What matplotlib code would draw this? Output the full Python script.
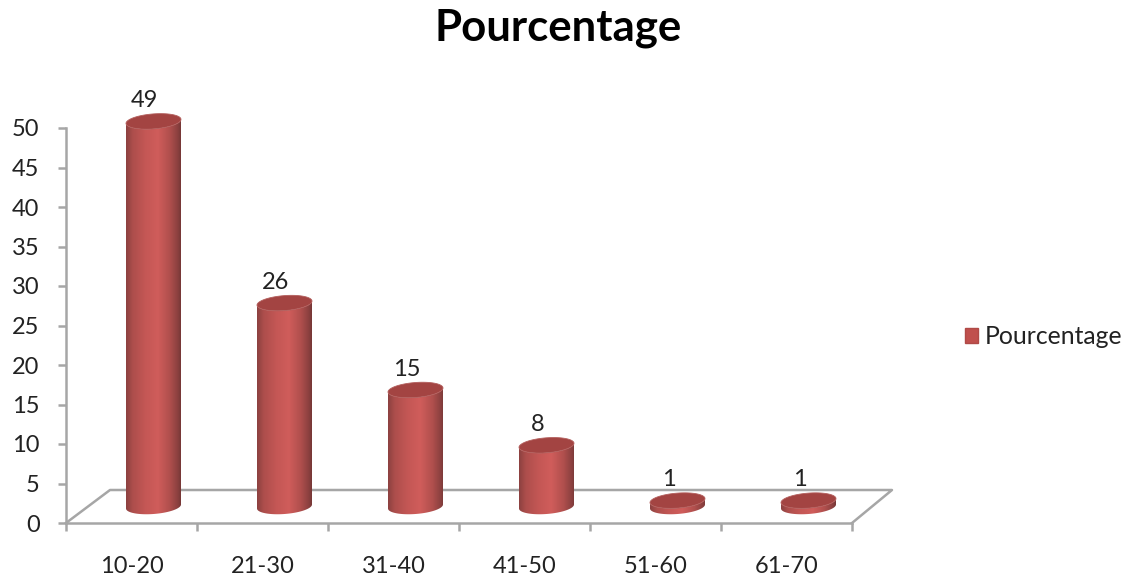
import numpy as np
import matplotlib
matplotlib.use('Agg')
import matplotlib.pyplot as plt
from matplotlib.colors import LinearSegmentedColormap
from matplotlib.patches import Patch, PathPatch
from matplotlib.path import Path

categories = ['10-20', '21-30', '31-40', '41-50', '51-60', '61-70']
values = [49, 26, 15, 8, 1, 1]
yticks = [0, 5, 10, 15, 20, 25, 30, 35, 40, 45, 50]
series_name = 'Pourcentage'

plt.rcParams['font.family'] = ['Lato', 'DejaVu Sans']
W, H = 1130, 582
AXIS = '#a6a6a6'
TEXT = '#222222'
TOPC = '#a34442'

# front plane of the fake 3d box, in pixels of the picture
L, R, B, T = 66, 852, 523, 128
fig = plt.figure(figsize=(W / 100, H / 100), dpi=100)
ax = fig.add_axes([L / W, 1 - B / H, (R - L) / W, (B - T) / H])
ax.set_xlim(0, len(categories))
ax.set_ylim(0, 50)

px = len(categories) / (R - L)   # data units per pixel, x
py = 50 / (B - T)                # data units per pixel, y
depth_left, depth_right, depth_y = 44 * px, 40 * px, 33 * py
bar_a, bar_b, bar_tilt = 27.5 * px, 7.5 * py, 2 * py
bar_dx, base_y, top_y = 22 * px, 16.5 * py, 14.5 * py

cyl = LinearSegmentedColormap.from_list('cyl', [
    (0.0, '#8c4140'), (0.12, '#ad4e4c'), (0.35, '#c45755'), (0.58, '#d05d5b'),
    (0.8, '#b04f4d'), (0.95, '#8a403f'), (1.0, '#763736')])

for s in ['top', 'right']:
    ax.spines[s].set_visible(False)
for s in ['left', 'bottom']:
    ax.spines[s].set_color(AXIS)
    ax.spines[s].set_linewidth(1.8)
    ax.spines[s].set_zorder(1)

ax.set_yticks(yticks)
ax.set_xticks(range(len(categories) + 1))
ax.set_xticklabels([])
ax.set_xticks(np.arange(len(categories)) + 0.5, minor=True)
ax.set_xticklabels(categories, minor=True)
ax.tick_params(axis='y', length=6, width=1.8, color=AXIS, pad=13, labelsize=17, labelcolor=TEXT)
ax.tick_params(axis='x', which='major', length=6, width=1.8, color=AXIS)
ax.tick_params(axis='x', which='minor', length=0, pad=24, labelsize=17, labelcolor=TEXT)

# floor of the box
ax.plot([0, depth_left, len(categories) + depth_right, len(categories)],
        [0, depth_y, depth_y, 0], color=AXIS, lw=1.8, clip_on=False, zorder=1)


def ellipse(cx, cy, t):
    return np.column_stack([cx + bar_a * np.cos(t),
                            cy + bar_b * np.sin(t) + bar_tilt * np.cos(t)])


t_low = np.linspace(np.pi, 2 * np.pi, 40)
t_all = np.linspace(0, 2 * np.pi, 80)

for i, v in enumerate(values):
    cx = i + 0.5 + bar_dx
    base = base_y
    top = top_y + v

    body = np.vstack([ellipse(cx, base, t_low), ellipse(cx, top, t_low[::-1])])
    im = ax.imshow(np.linspace(0, 1, 128).reshape(1, -1), cmap=cyl, aspect='auto',
                   extent=[cx - bar_a, cx + bar_a, base - 2 * bar_b, top + 2 * bar_b],
                   zorder=3)
    clip = PathPatch(Path(body), transform=ax.transData, facecolor='none', edgecolor='none',
                     clip_on=False)
    ax.add_patch(clip)
    im.set_clip_box(fig.bbox)   # otherwise the image stops at the top of the axes
    im.set_clip_path(clip)

    cap = PathPatch(Path(ellipse(cx, top, t_all)), facecolor=TOPC, edgecolor='#b35f5d',
                    lw=0.6, zorder=4, clip_on=False)
    ax.add_patch(cap)

    ax.annotate(str(v), (cx, top), xytext=(-6.5, 15), textcoords='offset points',
                ha='center', va='center', fontsize=17, color=TEXT, zorder=5,
                annotation_clip=False)

ax.set_xlim(0, len(categories))
ax.set_ylim(0, 50)

fig.text(558 / W, 1 - 28 / H, series_name, ha='center', va='center',
         fontsize=31.5, fontweight='bold', color='black')

handle = Patch(facecolor='#c0504d', edgecolor='#b04a47', label=series_name)
fig.legend(handles=[handle], loc='center left', bbox_to_anchor=(965 / W, 1 - 337 / H),
           frameon=False, fontsize=17.8, labelcolor=TEXT, handlelength=0.53,
           handleheight=0.53, handletextpad=0.28, borderpad=0, borderaxespad=0)

fig.savefig('out.png', dpi=100, facecolor='white')
